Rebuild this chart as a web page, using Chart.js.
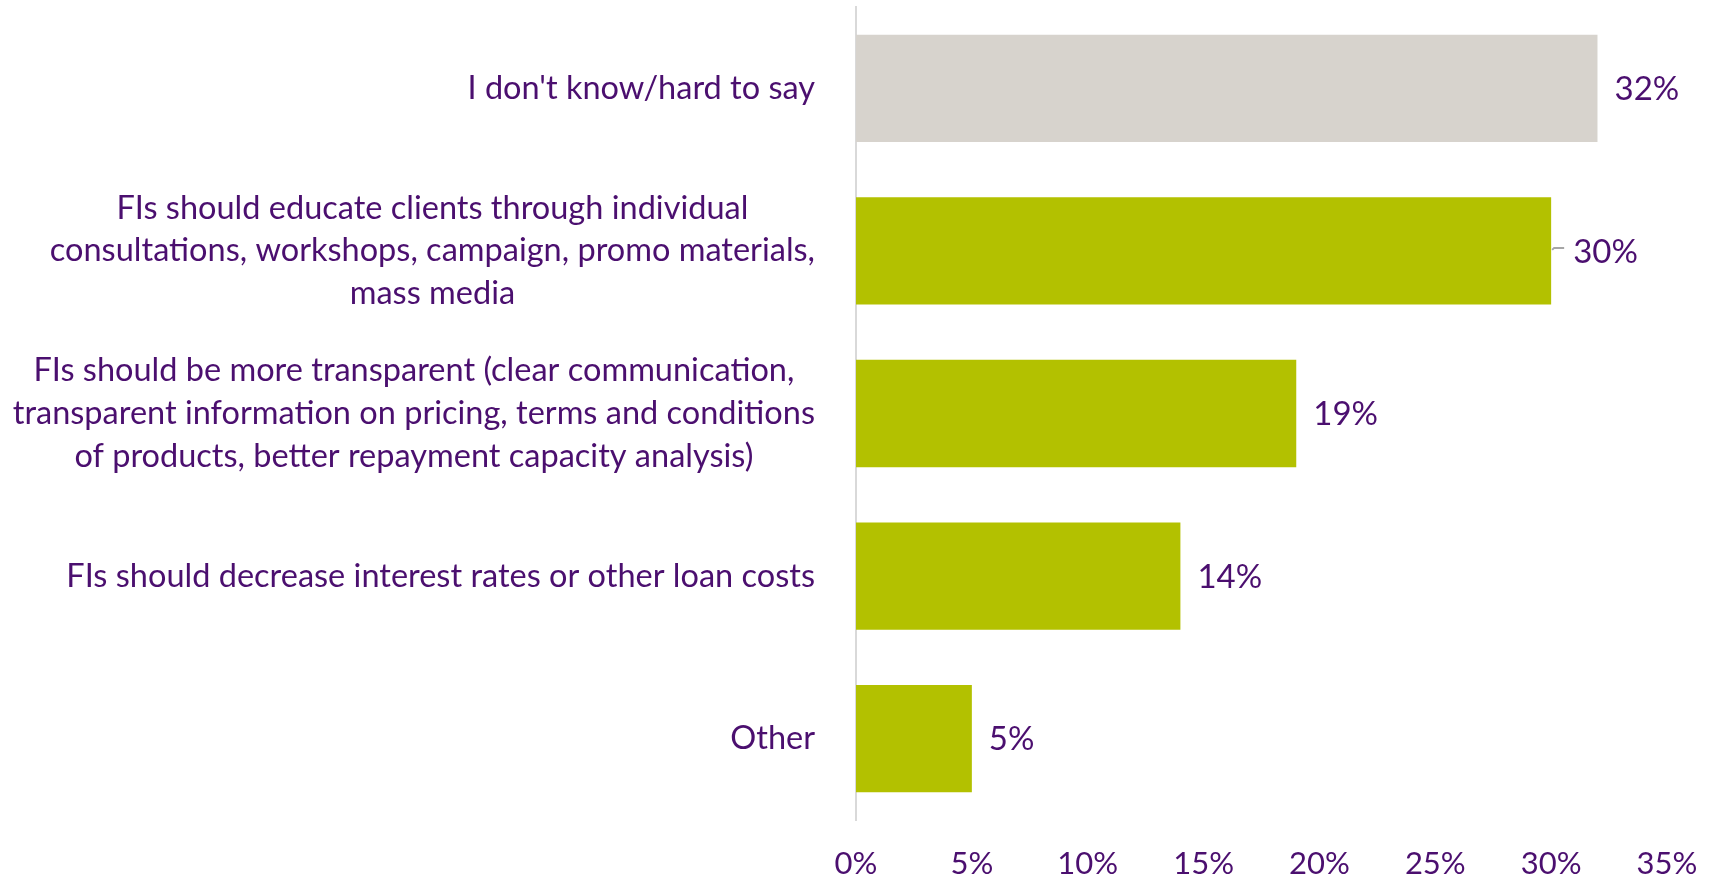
<!DOCTYPE html>
<html>
<head>
<meta charset="utf-8">
<script src="https://cdn.jsdelivr.net/npm/chart.js@4.4.0/dist/chart.umd.min.js"></script>
<style>
  html, body { margin: 0; padding: 0; background: #fff; }
  #wrap { width: 1713px; height: 878px; }
</style>
</head>
<body>
<div id="wrap"><canvas id="barChart"></canvas></div>
<script>
// HORIZONTAL BAR CHART

const categories = [
    ["I don't know/hard to say"],
    ['FIs should educate clients through individual', 'consultations, workshops, campaign, promo materials,', 'mass media'],
    ['FIs should be more transparent (clear communication,', 'transparent information on pricing, terms and conditions', 'of products, better repayment capacity analysis)'],
    ['FIs should decrease interest rates or other loan costs'],
    ['Other']
];
const shares = [32, 30, 19, 14, 5];
const xTicks = [0, 5, 10, 15, 20, 25, 30, 35];

const purple = '#4b0f6f';
const font = 'Lato';

// category names drawn left of the axis, each block centred on its own widest line
const categoryLabels = {
    id: 'categoryLabels',
    afterDraw(chart, args, opts) {
        const ctx = chart.ctx;
        const y = chart.scales.y;
        ctx.save();
        ctx.font = opts.size + 'px ' + font;
        ctx.fillStyle = purple;
        ctx.textAlign = 'center';
        ctx.textBaseline = 'middle';
        chart.data.labels.forEach((lines, i) => {
            const cy = y.getPixelForValue(i);
            const widest = Math.max(...lines.map(l => ctx.measureText(l).width));
            const cx = chart.chartArea.left - opts.gap - widest / 2;
            lines.forEach((line, j) => {
                ctx.fillText(line, cx, cy + (j - (lines.length - 1) / 2) * opts.lineHeight);
            });
        });
        ctx.restore();
    }
};

// percentage next to the end of every bar
const valueLabels = {
    id: 'valueLabels',
    afterDatasetsDraw(chart, args, opts) {
        const ctx = chart.ctx;
        const meta = chart.getDatasetMeta(0);
        ctx.save();
        ctx.font = opts.size + 'px ' + font;
        ctx.fillStyle = purple;
        ctx.textAlign = 'left';
        ctx.textBaseline = 'middle';
        meta.data.forEach((bar, i) => {
            const value = chart.data.datasets[0].data[i];
            let x = bar.x + opts.offset;
            if (opts.leaderFor.includes(i)) {
                ctx.strokeStyle = '#a6a6a6';
                ctx.lineWidth = 2;
                ctx.beginPath();
                ctx.moveTo(bar.x + 1, bar.y - 1);
                ctx.lineTo(bar.x + 3, bar.y - 3);
                ctx.lineTo(bar.x + 13, bar.y - 3);
                ctx.stroke();
                x = bar.x + opts.offset + 5;
            }
            ctx.fillText(value + '%', x, bar.y + 1);
        });
        ctx.restore();
    }
};

new Chart(document.getElementById('barChart'), {
    type: 'bar',
    data: {
        labels: categories,
        datasets: [
            {
                data: shares,
                backgroundColor: ['#d7d3cd', '#b3c100', '#b3c100', '#b3c100', '#b3c100'],
                categoryPercentage: 1,
                barPercentage: 0.66
            }
        ]
    },
    options: {
        indexAxis: 'y',
        responsive: true,
        maintainAspectRatio: false,
        animation: false,
        layout: { padding: { top: 7, right: 46, bottom: 0, left: 0 } },
        scales: {
            x: {
                min: 0,
                max: 35,
                afterBuildTicks: s => { s.ticks = xTicks.map(v => ({ value: v })); },
                afterFit: s => {
                    s.height = 58;
                    s.paddingLeft = 0;
                    s.paddingRight = 0;
                },
                grid: { display: false, drawTicks: false },
                border: { display: false },
                ticks: {
                    padding: 28,
                    color: purple,
                    font: { family: font, size: 31, lineHeight: 1 },
                    callback: v => v + '%'
                }
            },
            y: {
                afterFit: s => { s.width = 856; },
                grid: { display: false, drawTicks: false },
                border: { color: '#d9d9d9', width: 2 },
                ticks: { display: false }
            }
        },
        plugins: {
            legend: { display: false },
            tooltip: { enabled: false },
            categoryLabels: { size: 32.5, lineHeight: 42.6, gap: 41 },
            valueLabels: { size: 33, offset: 17, leaderFor: [1] }
        }
    },
    plugins: [categoryLabels, valueLabels]
});
</script>
</body>
</html>
